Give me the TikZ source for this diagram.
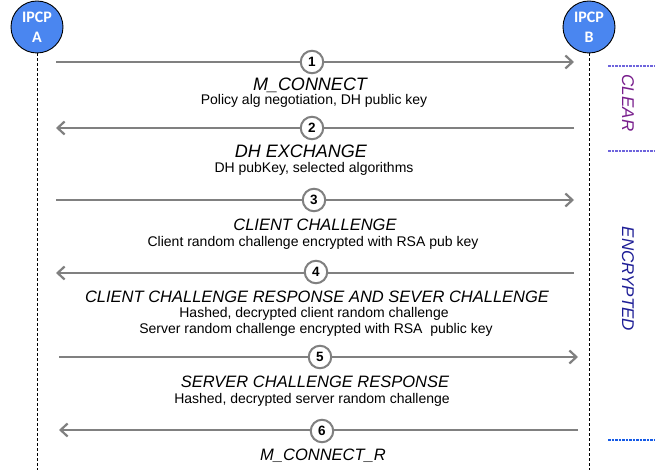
\documentclass[tikz,border=0pt]{standalone}
\usepackage{fontspec}
\setmainfont{Liberation Sans}
\newfontfamily\calib{Carlito}
\usetikzlibrary{arrows.meta}
\definecolor{ipblue}{RGB}{74,134,240}
\definecolor{arrgray}{RGB}{128,128,128}
\definecolor{clearcol}{RGB}{120,30,140}
\definecolor{enccol}{RGB}{30,30,150}
\definecolor{sepcol}{RGB}{110,100,220}
\definecolor{sepblue}{RGB}{20,90,230}
\tikzset{
  x=1pt, y=-1pt,
  actor/.style={circle, draw=black, line width=0.9pt, fill=ipblue, minimum size=52pt, inner sep=0pt, text=white, font=\calib\bfseries\fontsize{16}{20}\selectfont, align=center},
  lifeline/.style={densely dashed, line width=0.8pt, black},
  msg/.style={draw=arrgray, line width=2.8pt, -{Straight Barb[length=7pt,width=13pt,line width=2.2pt]}},
  stepnum/.style={circle, draw=arrgray, line width=2pt, fill=white, minimum size=22.5pt, inner sep=0pt, font=\bfseries\fontsize{13.5}{15}\selectfont},
  title/.style={font=\itshape\fontsize{16.5}{19}\selectfont},
  bigtitle/.style={font=\itshape\fontsize{18}{21}\selectfont},
  desc/.style={font=\fontsize{14}{16}\selectfont},
  sep/.style={dashed, dash pattern=on 2.5pt off 1pt, line width=1.2pt},
  zone/.style={rotate=-90, font=\itshape\fontsize{17}{20}\selectfont}
}
\begin{document}
\begin{tikzpicture}
\useasboundingbox (0,0) rectangle (657,470);
% actors
\node[actor] (A) at (37,27) {IPCP\\A};
\node[actor] (B) at (589,27) {IPCP\\B};
\coordinate (Aend) at (37,470);
\coordinate (Bend) at (589,470);
\draw[lifeline] (A.south) -- (Aend);
\draw[lifeline] (B.south) -- (Bend);
% message endpoints
\coordinate (a1) at (56,62);  \coordinate (b1) at (574,62);
\coordinate (a2) at (56,128); \coordinate (b2) at (574,128);
\coordinate (a3) at (56,200); \coordinate (b3) at (574,200);
\coordinate (a4) at (56,273); \coordinate (b4) at (574,273);
\coordinate (a5) at (59,357); \coordinate (b5) at (578,357);
\coordinate (a6) at (59,430); \coordinate (b6) at (578,430);
\draw[msg] (a1) -- (b1);
\draw[msg] (b2) -- (a2);
\draw[msg] (a3) -- (b3);
\draw[msg] (b4) -- (a4);
\draw[msg] (a5) -- (b5);
\draw[msg] (b6) -- (a6);
% step numbers
\node[stepnum] (s1) at (312,62) {1};
\node[stepnum] (s2) at (312,128) {2};
\node[stepnum] (s3) at (314,200) {3};
\node[stepnum] (s4) at (316,272) {4};
\node[stepnum] (s5) at (320,357) {5};
\node[stepnum] (s6) at (322,431) {6};
% labels
\node[bigtitle] (t1) at (310,85) {M\_CONNECT};
\node[desc] (d1) at (314,101) {Policy alg negotiation, DH public key};
\node[bigtitle] (t2) at (301,151) {DH EXCHANGE};
\node[desc] (d2) at (314,169) {DH pubKey, selected algorithms};
\node[title] (t3) at (315,225) {CLIENT CHALLENGE};
\node[desc] (d3) at (313,243) {Client random challenge encrypted with RSA pub key};
\node[title] (t4) at (317,297) {CLIENT CHALLENGE RESPONSE AND SEVER CHALLENGE};
\node[desc] (d4a) at (314,314) {Hashed, decrypted client random challenge};
\node[desc] (d4b) at (316,330) {Server random challenge encrypted with RSA\ \ public key};
\node[title] (t5) at (315,382) {SERVER CHALLENGE RESPONSE};
\node[desc] (d5) at (312,400) {Hashed, decrypted server random challenge};
\node[title] (t6) at (323,456) {M\_CONNECT\_R};
% zones
\coordinate (z1l) at (608,66);  \coordinate (z1r) at (655,66);
\coordinate (z2l) at (608,151); \coordinate (z2r) at (655,151);
\coordinate (z3l) at (608,440); \coordinate (z3r) at (655,440);
\draw[sep, draw=sepcol] (z1l) -- (z1r);
\draw[sep, draw=sepcol] (z2l) -- (z2r);
\draw[sep, draw=sepblue] (z3l) -- (z3r);
\node[zone, text=clearcol] (clear) at (628,103) {CLEAR};
\node[zone, text=enccol] (enc) at (628,279) {ENCRYPTED};
\end{tikzpicture}
\end{document}
